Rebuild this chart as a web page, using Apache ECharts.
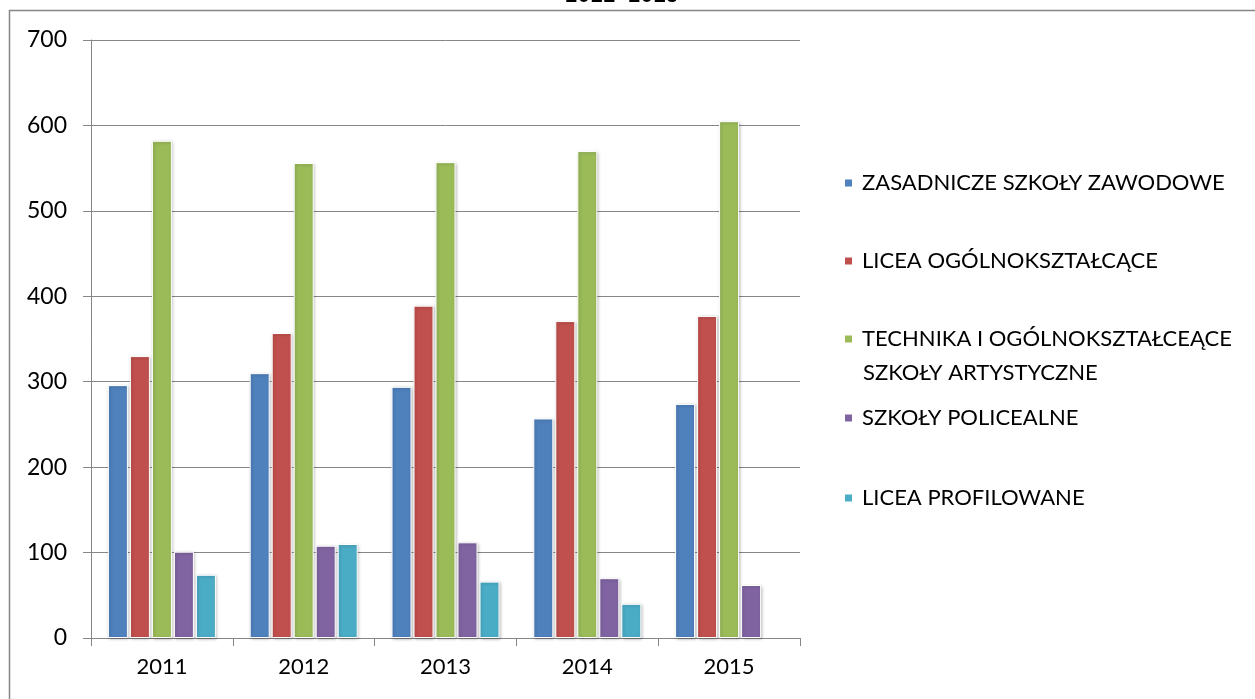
<!DOCTYPE html>
<html>
<head>
<meta charset="utf-8">
<script src="https://cdn.jsdelivr.net/npm/echarts@6/dist/echarts.min.js"></script>
<style>
  html, body { margin: 0; padding: 0; background: #fff; }
  #main { width: 1255px; height: 699px; }
</style>
</head>
<body>
<div id="main"></div>
<script>
// data
var years = ['2011', '2012', '2013', '2014', '2015'];
var zasadnicze = [296, 310, 294, 257, 274];
var liceaOgolne = [330, 357, 389, 371, 377];
var technika = [582, 556, 557, 570, 605];
var policealne = [101, 108, 112, 70, 62];
var profilowane = [74, 110, 66, 40, null];
var yTicks = [0, 100, 200, 300, 400, 500, 600, 700];

var names = [
  'ZASADNICZE SZKOŁY ZAWODOWE',
  'LICEA OGÓLNOKSZTAŁCĄCE',
  'TECHNIKA I OGÓLNOKSZTAŁCEĄCE',
  'SZKOŁY POLICEALNE',
  'LICEA PROFILOWANE'
];
var colors = ['#4F81BD', '#C0504D', '#9BBB59', '#8064A2', '#4BACC6'];
var values = [zasadnicze, liceaOgolne, technika, policealne, profilowane];

var font = 'Lato, "Noto Sans", sans-serif';
var gray = '#868686';

var chart = echarts.init(document.getElementById('main'));

var series = names.map(function (n, i) {
  return {
    name: n,
    type: 'bar',
    data: values[i],
    barWidth: 20,
    barGap: '10%',
    itemStyle: {
      color: colors[i],
      borderColor: '#fff',
      borderWidth: 1,
      shadowBlur: 3,
      shadowOffsetX: 1,
      shadowOffsetY: 1,
      shadowColor: 'rgba(0,0,0,0.25)'
    }
  };
});

// one legend per entry so the uneven spacing can be kept
var legendTops = [167, 245, 323, 402, 482];
var legends = names.map(function (n, i) {
  return {
    data: [n],
    left: 838,
    top: legendTops[i],
    orient: 'vertical',
    itemWidth: 9,
    itemHeight: 9,
    itemGap: 0,
    icon: 'rect',
    selectedMode: false,
    textStyle: { fontFamily: font, fontSize: 22, color: '#000', lineHeight: 22, padding: [0, 0, 0, 4] }
  };
});

chart.setOption({
  animation: false,
  backgroundColor: '#fff',
  color: colors,
  title: {
    text: '2011-2015',
    left: 560,
    top: -19,
    textStyle: { fontFamily: '"Liberation Mono", monospace', fontWeight: 'bold', fontSize: 21, color: '#000' }
  },
  legend: legends,
  grid: { left: 91, right: 455, top: 40, bottom: 61, containLabel: false },
  xAxis: {
    type: 'category',
    data: years,
    axisLine: { lineStyle: { color: gray, width: 1 } },
    axisTick: { show: true, length: 8, lineStyle: { color: gray } },
    axisLabel: { fontFamily: font, fontSize: 22, color: '#000', margin: 18 }
  },
  yAxis: {
    type: 'value',
    min: yTicks[0],
    max: yTicks[yTicks.length - 1],
    interval: 100,
    axisLine: { show: true, lineStyle: { color: gray, width: 1 } },
    axisTick: { show: true, length: 8, lineStyle: { color: gray } },
    splitLine: { lineStyle: { color: gray, width: 1 } },
    axisLabel: { fontFamily: font, fontSize: 23, color: '#000', margin: 24 }
  },
  graphic: [
    {
      type: 'rect',
      z: -1,
      silent: true,
      shape: { x: 9.5, y: 10.5, width: 2000, height: 2000 },
      style: { fill: null, stroke: gray, lineWidth: 1.5 }
    },
    {
      type: 'text',
      left: 863,
      top: 362,
      style: { text: 'SZKOŁY ARTYSTYCZNE', font: '22px ' + font, fill: '#000' }
    }
  ],
  series: series
});
</script>
</body>
</html>
